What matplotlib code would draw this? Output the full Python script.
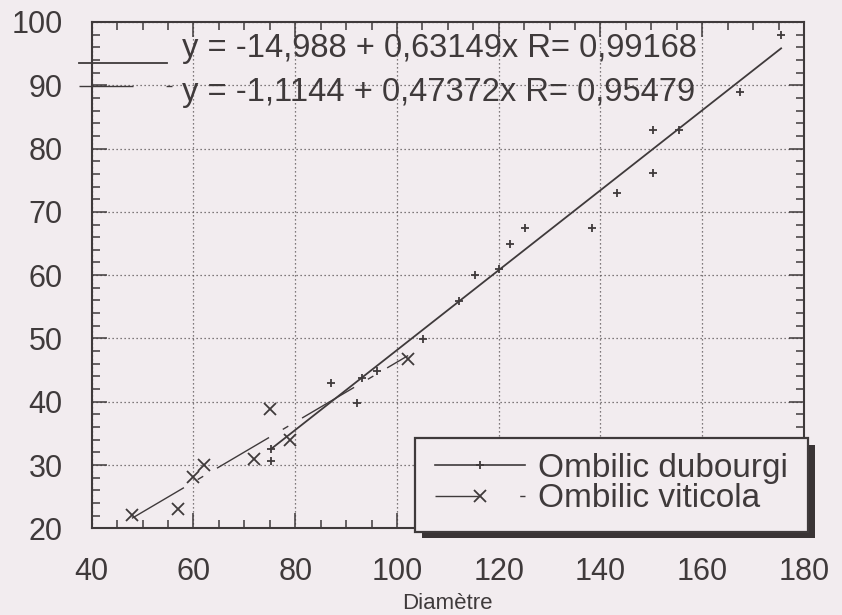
import matplotlib
matplotlib.use("Agg")
import matplotlib.pyplot as plt
from matplotlib.lines import Line2D
from matplotlib.patches import Rectangle
import numpy as np

# ---- data ----
dub_x = [75.2, 75.2, 87.1, 92.2, 93.2, 96.0, 105.2, 112.2, 115.3, 120.0,
         122.3, 125.2, 138.4, 143.3, 150.4, 150.4, 155.4, 167.4, 175.5]
dub_y = [32.6, 30.6, 42.9, 39.8, 43.7, 44.9, 49.9, 55.9, 60.0, 60.9,
         65.0, 67.5, 67.5, 73.0, 76.1, 82.9, 82.9, 88.9, 98.0]
vit_x = [47.9, 56.9, 60.0, 62.0, 71.9, 75.0, 79.0, 102.2]
vit_y = [22.1, 23.0, 28.1, 30.0, 30.9, 38.8, 34.0, 46.7]

dub_fit = (-14.988, 0.63149)   # intercept, slope
vit_fit = (-1.1144, 0.47372)
eq_labels = ["y = -14,988 + 0,63149x R= 0,99168",
             "y = -1,1144 + 0,47372x R= 0,95479"]
series_labels = ["Ombilic dubourgi", "Ombilic viticola"]
x_ticks = [40, 60, 80, 100, 120, 140, 160, 180]
y_ticks = [20, 30, 40, 50, 60, 70, 80, 90, 100]
x_label = "Diamètre"

# ---- style ----
BG = "#f2ecef"
INK = "#3f3a3b"
plt.rcParams["font.family"] = ["Liberation Sans", "DejaVu Sans"]

W, H = 842, 615
fig = plt.figure(figsize=(W / 100, H / 100), dpi=100, facecolor=BG)

def fx(px):
    return px / W

def fy(py):
    return 1 - py / H

ax = fig.add_axes([fx(91.7), fy(528.3), (804 - 91.7) / W, (528.3 - 22) / H])
ax.set_facecolor(BG)
ax.set_xlim(40, 180)
ax.set_ylim(20, 100)
ax.set_xticks(x_ticks)
ax.set_yticks(y_ticks)
ax.set_xticks(np.arange(40, 181, 5), minor=True)
ax.set_yticks(np.arange(20, 101, 2), minor=True)
ax.tick_params(which="both", direction="in", top=True, right=True,
               color=INK, width=1.1)
ax.tick_params(which="major", length=11, pad=21, labelsize=22, labelcolor=INK)
ax.tick_params(which="minor", length=5.5)
for s in ax.spines.values():
    s.set_color(INK)
    s.set_linewidth(1.5)
ax.grid(True, which="major", linestyle=(0, (1, 2.2)), color="#5a5455", lw=0.9)
ax.set_axisbelow(True)
ax.set_xlabel(x_label, fontsize=16, color=INK, labelpad=4)

dash_vit = (0, (43.5, 11.5, 4.6, 11.5))

# fits
xd = np.array([min(dub_x), max(dub_x)])
ax.plot(xd, dub_fit[0] + dub_fit[1] * xd, color=INK, lw=1.3)
xv = np.array([min(vit_x), max(vit_x)])
ax.plot(xv, vit_fit[0] + vit_fit[1] * xv, color=INK, lw=1.0, linestyle=dash_vit)

# points
ax.plot(dub_x, dub_y, linestyle="none", marker="+", ms=5.5, mew=1.3, color=INK)
ax.plot(vit_x, vit_y, linestyle="none", marker="x", ms=8, mew=1.3, color=INK)

# equation block at top
fig.add_artist(Line2D([fx(79), fx(167)], [fy(63), fy(63)], color=INK, lw=1.3))
fig.add_artist(Line2D([fx(79), fx(172)], [fy(86), fy(86)], color=INK, lw=1.0,
                      linestyle=(0, (38.9, 23.8, 4.3, 30))))
fig.text(fx(182), fy(49), eq_labels[0], fontsize=23.5, color=INK, va="center", ha="left")
fig.text(fx(182), fy(92), eq_labels[1], fontsize=23.5, color=INK, va="center", ha="left")

# legend box with shadow
fig.add_artist(Rectangle((fx(422), fy(538)), fx(815) - fx(422), fy(445) - fy(538),
                         transform=fig.transFigure, facecolor="#3a3435",
                         edgecolor="none", zorder=3))
fig.add_artist(Rectangle((fx(415), fy(532)), fx(808) - fx(415), fy(438) - fy(532),
                         transform=fig.transFigure, facecolor=BG,
                         edgecolor=INK, lw=1.6, zorder=4))
h1 = Line2D([], [], color=INK, lw=1.2, marker="+", ms=5.5, mew=1.3)
h2 = Line2D([], [], color=INK, lw=1.0, marker="x", ms=8, mew=1.3,
            linestyle=(0, (31, 30, 6, 40)))
leg = fig.legend([h1, h2], series_labels, loc="upper left",
                 bbox_to_anchor=(fx(435), fy(453)), bbox_transform=fig.transFigure,
                 frameon=False, fontsize=24, handlelength=2.7, handletextpad=0.39,
                 borderpad=0, borderaxespad=0, labelspacing=-0.02, labelcolor=INK)
leg.set_zorder(5)

fig.savefig("out.png", dpi=100, facecolor=BG)
